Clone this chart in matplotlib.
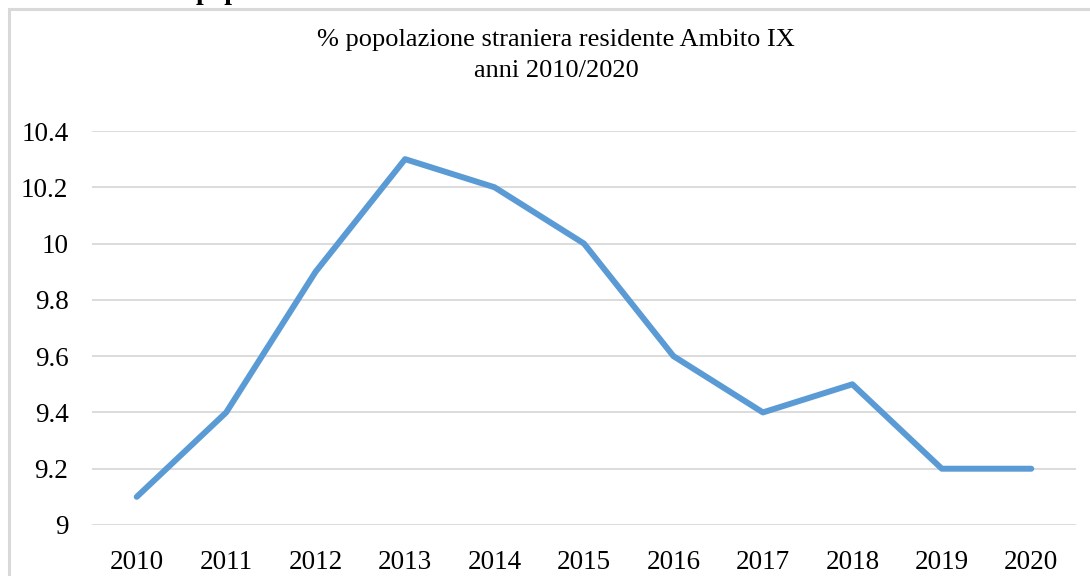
import matplotlib
matplotlib.use("Agg")
from matplotlib import pyplot as plt
from matplotlib.patches import Rectangle

# data
anni = ['2010', '2011', '2012', '2013', '2014', '2015', '2016', '2017', '2018', '2019', '2020']
percentuale = [9.1, 9.4, 9.9, 10.3, 10.2, 10.0, 9.6, 9.4, 9.5, 9.2, 9.2]
y_ticks = [9, 9.2, 9.4, 9.6, 9.8, 10, 10.2, 10.4]
y_labels = ['9', '9.2', '9.4', '9.6', '9.8', '10', '10.2', '10.4']

plt.rcParams['font.family'] = ['Liberation Serif', 'DejaVu Serif']

W, H = 1090, 576
fig = plt.figure(figsize=(W / 100, H / 100), dpi=100)

# outer chart border (cut off on the right and bottom)
fig.patches.append(Rectangle((9 / W, -0.1), 1.3, 1 - 9 / H + 0.1, transform=fig.transFigure,
                             fill=False, edgecolor='#d9d9d9', linewidth=2.2))

# heading cut off at top of the page
fig.text(196 / W, 1 + 1 / H, 'popolazione', fontsize=20, fontweight='bold',
         va='baseline', ha='left')

ax = fig.add_axes([92 / W, 1 - 525 / H, (1076 - 92) / W, (525 - 131) / H])
x = range(len(anni))
ax.plot(x, percentuale, color='#5b9bd5', linewidth=4.3, solid_capstyle='round',
        solid_joinstyle='round')

ax.set_xlim(-0.5, len(anni) - 0.5)
ax.set_ylim(9, 10.4)
ax.set_xticks(list(x))
ax.set_xticklabels(anni)
ax.set_yticks(y_ticks)
ax.set_yticklabels(y_labels)
ax.tick_params(axis='both', length=0, labelsize=19.5)
ax.tick_params(axis='y', pad=17)
ax.tick_params(axis='x', pad=18)
ax.grid(axis='y', color='#d9d9d9', linewidth=1.3)
ax.set_axisbelow(True)
for s in ax.spines.values():
    s.set_visible(False)

fig.text(556 / W, 1 - 40 / H, '% popolazione straniera residente Ambito IX',
         ha='center', va='center', fontsize=19)
fig.text(556 / W, 1 - 71 / H, 'anni 2010/2020', ha='center', va='center', fontsize=19)

fig.savefig('out.png', dpi=100)
